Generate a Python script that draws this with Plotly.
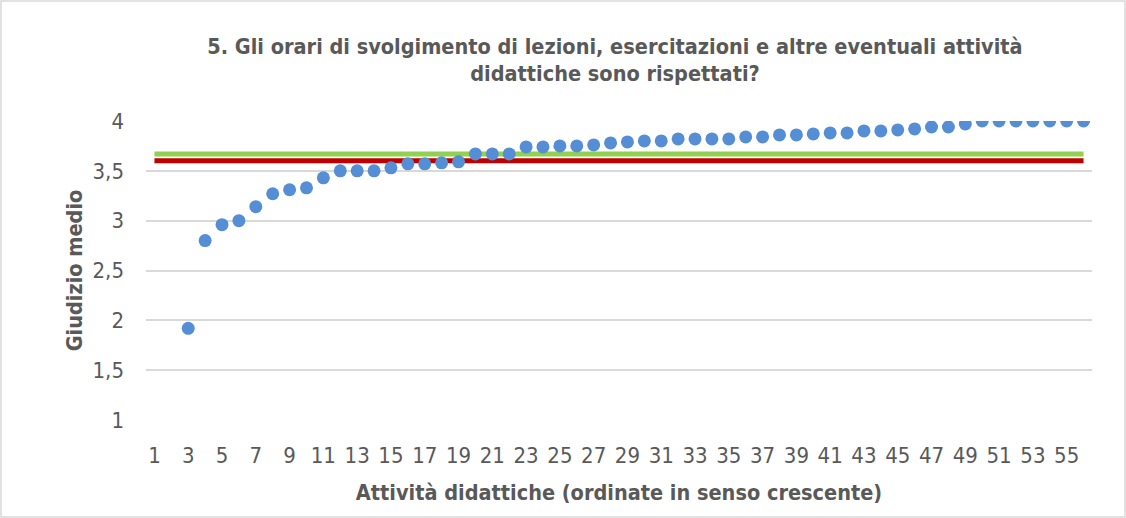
import plotly.graph_objects as go

categories = list(range(1, 57))
point_categories = list(range(3, 57))
giudizio = [1.92, 2.80, 2.96, 3.00, 3.14, 3.27, 3.31, 3.33, 3.43, 3.50,
            3.50, 3.50, 3.53, 3.57, 3.57, 3.58, 3.59, 3.67, 3.67, 3.67,
            3.74, 3.74, 3.75, 3.75, 3.76, 3.78, 3.79, 3.80, 3.80, 3.82,
            3.82, 3.82, 3.82, 3.84, 3.84, 3.86, 3.86, 3.87, 3.88, 3.88,
            3.90, 3.90, 3.91, 3.92, 3.94, 3.94, 3.97, 4.00, 4.00, 4.00,
            4.00, 4.00, 4.00, 4.00]
media_verde = 3.67
media_rossa = 3.60
x_ticks = list(range(1, 56, 2))
y_ticks = [1, 1.5, 2, 2.5, 3, 3.5, 4]

FONT = "Liberation Sans Narrow, Arial Narrow, DejaVu Sans Condensed, Open Sans, sans-serif"
GREY = "#595959"

fig = go.Figure()
fig.add_trace(go.Scatter(x=[categories[0], categories[-1]], y=[media_verde, media_verde],
                         mode="lines", line=dict(color="#92D050", width=5),
                         hoverinfo="skip", showlegend=False))
fig.add_trace(go.Scatter(x=[categories[0], categories[-1]], y=[media_rossa, media_rossa],
                         mode="lines", line=dict(color="#C00000", width=5),
                         hoverinfo="skip", showlegend=False))
fig.add_trace(go.Scatter(x=point_categories, y=giudizio, mode="markers",
                         marker=dict(color="#558ED5", size=13, line=dict(width=0)),
                         showlegend=False))

fig.update_layout(
    width=1126, height=518,
    margin=dict(l=146, r=34, t=121, b=98),
    paper_bgcolor="white", plot_bgcolor="white",
    separators=",.",
    font=dict(family=FONT, color=GREY),
    title=dict(text="<b>5. Gli orari di svolgimento di lezioni, esercitazioni e altre eventuali attività<br>didattiche sono rispettati?</b>",
               x=615 / 1126, xanchor="center", y=1 - 53.5 / 518, yanchor="middle",
               font=dict(family=FONT, size=21.5, color=GREY)),
    xaxis=dict(range=[0.5, 56.5], tickvals=x_ticks, showgrid=False, zeroline=False,
               showline=False, tickfont=dict(size=22, color=GREY), ticklabelstandoff=20,
               title=dict(text="<b>Attività didattiche (ordinate in senso crescente)</b>",
                          font=dict(size=21.5, color=GREY), standoff=17)),
    yaxis=dict(range=[1, 4], tickvals=y_ticks, showgrid=True, gridcolor="#D9D9D9",
               gridwidth=1.5, zeroline=False, showline=False,
               tickfont=dict(size=22, color=GREY), ticklabelstandoff=21,
               title=dict(text="<b>Giudizio medio</b>", font=dict(size=21.5, color=GREY),
                          standoff=4)),
)
fig.add_shape(type="rect", xref="paper", yref="paper",
              x0=(1 - 146) / 946, x1=(1125 - 146) / 946,
              y0=(420 - 517) / 299, y1=(420 - 1) / 299,
              line=dict(color="#D9D9D9", width=1.5), layer="below")

fig.write_html("out.html", config={"displayModeBar": False},
               post_script="document.body.style.margin='0';")
